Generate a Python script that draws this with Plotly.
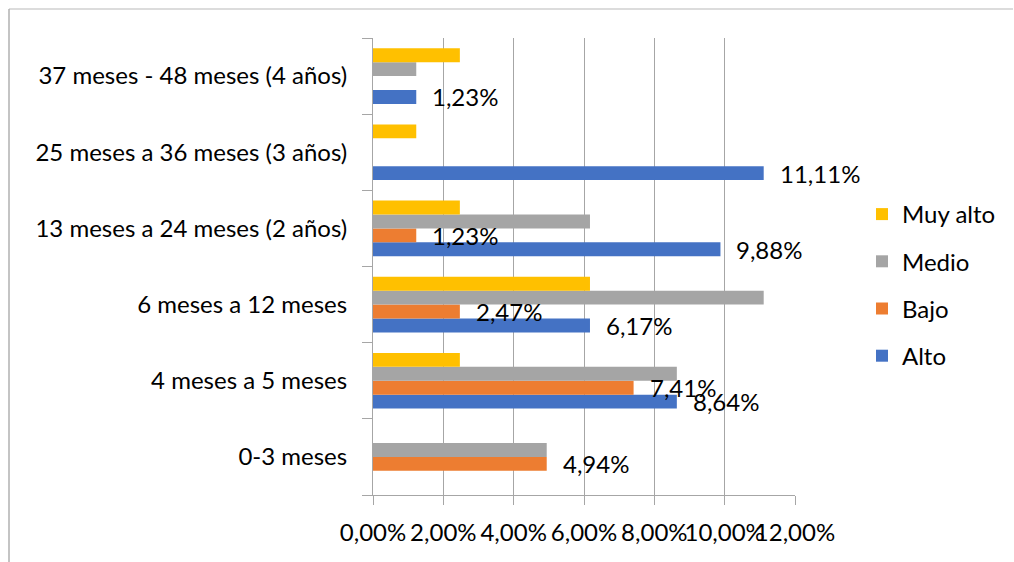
import plotly.graph_objects as go

categories = [
    "0-3 meses",
    "4 meses a 5 meses",
    "6 meses a 12 meses",
    "13 meses a 24 meses (2 años)",
    "25 meses a 36 meses (3 años)",
    "37 meses - 48 meses (4 años)",
]
alto = [0.0, 0.0864, 0.0617, 0.0988, 0.1111, 0.0123]
bajo = [0.0494, 0.0741, 0.0247, 0.0123, 0.0, 0.0]
medio = [0.0494, 0.0864, 0.1111, 0.0617, 0.0, 0.0123]
muy_alto = [0.0, 0.0247, 0.0617, 0.0247, 0.0123, 0.0247]
x_ticks = [0.0, 0.02, 0.04, 0.06, 0.08, 0.10, 0.12]

FONT = "Lato"
FS = 24
W, H = 1014, 562
ML, MR, MT, MB = 373, 219, 38, 67
BARGAP = 0.27

series = [
    ("Alto", alto, "#4472C4", True),
    ("Bajo", bajo, "#ED7D31", True),
    ("Medio", medio, "#A5A5A5", False),
    ("Muy alto", muy_alto, "#FFC000", False),
]

fig = go.Figure()
for i, (name, vals, color, labelled) in enumerate(series):
    fig.add_trace(go.Bar(
        y=categories, x=vals, name=name, orientation="h",
        marker=dict(color=color, line=dict(width=0)),
        legendgroup=name, legendrank=len(series) - i,
    ))

# Value labels for the Alto and Bajo series, placed just past the bar end
plot_w = W - ML - MR
plot_h = H - MT - MB
slot = plot_h / len(categories)
bar_w = slot * (1 - BARGAP) / len(series)
annotations = []
for i, (name, vals, color, labelled) in enumerate(series):
    if not labelled:
        continue
    offset = (i - (len(series) - 1) / 2) * bar_w
    for cat, v in zip(categories, vals):
        if v > 0:
            annotations.append(dict(
                x=v, y=cat, xref="x", yref="y",
                text=f"{v*100:.2f}%".replace(".", ","),
                showarrow=False, xanchor="left", yanchor="middle",
                xshift=14, yshift=offset,
                font=dict(family=FONT, size=FS, color="#000000"),
            ))

def px_x(px):
    return (px - ML) / plot_w

def px_y(py):
    return (H - MB - py) / plot_h

fig.update_layout(
    width=W, height=H,
    margin=dict(l=ML, r=MR, t=MT, b=MB, autoexpand=False),
    paper_bgcolor="white", plot_bgcolor="white",
    barmode="group", bargap=BARGAP, bargroupgap=0,
    separators=",.",
    font=dict(family=FONT, size=FS, color="#000000"),
    showlegend=True,
    legend=dict(
        x=px_x(862), xanchor="left", y=px_y(285), yanchor="middle",
        traceorder="grouped", tracegroupgap=13,
        font=dict(family=FONT, size=FS, color="#000000"),
        itemwidth=30, bgcolor="rgba(0,0,0,0)",
    ),
    annotations=annotations,
    shapes=[
        dict(type="line", xref="paper", yref="paper",
             x0=px_x(9), x1=px_x(1013), y0=px_y(9), y1=px_y(9),
             line=dict(color="#d0d0d0", width=1.5)),
        dict(type="line", xref="paper", yref="paper",
             x0=px_x(9), x1=px_x(9), y0=px_y(9), y1=px_y(H + 5),
             line=dict(color="#b0b0b0", width=1.5)),
    ],
)
fig.update_xaxes(
    range=[0, 0.12], tickvals=x_ticks, tickformat=".2%", tickangle=0,
    showgrid=True, gridcolor="#a6a6a6", gridwidth=1,
    showline=True, linecolor="#a6a6a6", linewidth=1,
    ticks="outside", ticklen=9, tickcolor="#a6a6a6",
    ticklabelstandoff=7, zeroline=False, fixedrange=True, automargin=False,
)
fig.update_yaxes(
    type="category", categoryorder="array", categoryarray=categories,
    showgrid=False, showline=True, linecolor="#a6a6a6", linewidth=1,
    ticks="outside", ticklen=10, tickcolor="#a6a6a6", tickson="boundaries",
    ticklabelstandoff=20, zeroline=False, fixedrange=True, automargin=False,
)

fig.write_html("out.html")
